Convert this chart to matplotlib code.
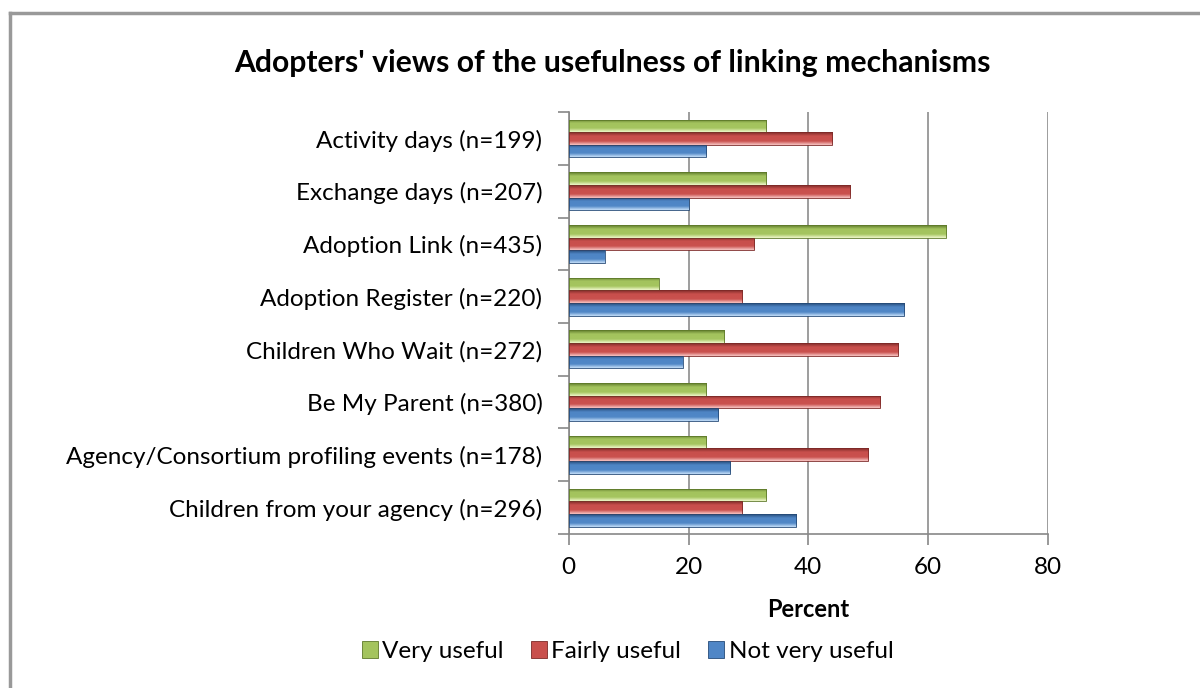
import matplotlib
matplotlib.use("Agg")
import matplotlib.pyplot as plt
import numpy as np
from matplotlib.colors import LinearSegmentedColormap
from matplotlib.patches import Rectangle
from matplotlib.lines import Line2D

plt.rcParams['font.family'] = ['Lato', 'DejaVu Sans']

categories = ["Activity days (n=199)", "Exchange days (n=207)", "Adoption Link (n=435)",
              "Adoption Register (n=220)", "Children Who Wait (n=272)", "Be My Parent (n=380)",
              "Agency/Consortium profiling events (n=178)", "Children from your agency (n=296)"]
very_useful = [33, 33, 63, 15, 26, 23, 23, 33]
fairly_useful = [44, 47, 31, 29, 55, 52, 50, 29]
not_very_useful = [23, 20, 6, 56, 19, 25, 27, 38]
series_names = ["Very useful", "Fairly useful", "Not very useful"]
xticks = [0, 20, 40, 60, 80]

# (light, base, dark)
palettes = [("#f0f8cc", "#a4c45e", "#5f7a2b"),
            ("#f9c8c6", "#c9504d", "#7d2a28"),
            ("#c6e0f9", "#4f86c6", "#264b78")]

fig = plt.figure(figsize=(12, 6.88), dpi=100)
ax = fig.add_axes([0.474, 0.224, 0.399, 0.613])

n = len(categories)
y = np.arange(n)[::-1].astype(float)
h = 0.24
offsets = [h, 0.0, -h]
allvals = [very_useful, fairly_useful, not_very_useful]

ax.set_xlim(0, 80)
ax.set_ylim(-0.5, n - 0.5)

for vals, off, pal, name in zip(allvals, offsets, palettes, series_names):
    bars = ax.barh(y + off, vals, height=h, color=pal[1], edgecolor='none', zorder=3, label=name)
    cmap = LinearSegmentedColormap.from_list("g", [(0, pal[0]), (0.3, pal[1]), (0.7, pal[1]), (1, pal[2])])
    grad = np.linspace(0, 1, 64).reshape(-1, 1)
    for b in bars:
        x0, y0 = b.get_x(), b.get_y()
        w, hh = b.get_width(), b.get_height()
        im = ax.imshow(grad, cmap=cmap, extent=[x0, x0 + w, y0 + hh, y0], aspect='auto',
                       origin='upper', zorder=4, interpolation='bicubic')
        im.set_clip_path(b)
        ax.add_patch(Rectangle((x0, y0), w, hh, fill=False, edgecolor=pal[2], lw=0.6, zorder=5))

ax.set_xlim(0, 80)
ax.set_ylim(-0.5, n - 0.5)

ax.set_yticks(y)
ax.set_yticklabels(categories, fontsize=17.5)
ax.set_yticks(np.arange(-0.5, n, 1.0), minor=True)
ax.tick_params(axis='y', which='major', length=0, pad=19)
ax.tick_params(axis='y', which='minor', length=8, color='#888888', width=1.2)
ax.set_xticks(xticks)
ax.set_xticklabels([str(t) for t in xticks], fontsize=17.5)
ax.tick_params(axis='x', length=8, color='#888888', width=1.2, pad=9)
ax.xaxis.grid(True, color='#8c8c8c', lw=1.2, zorder=0)
ax.set_axisbelow(True)
for s in ['top', 'right']:
    ax.spines[s].set_visible(False)
for s in ['left', 'bottom']:
    ax.spines[s].set_color('#888888')
    ax.spines[s].set_linewidth(1.2)
ax.set_xlabel("Percent", fontsize=17, fontweight='bold', labelpad=14)

fig.text(0.51, 0.909, "Adopters' views of the usefulness of linking mechanisms",
         ha='center', va='center', fontsize=21.7, fontweight='bold')

handles = [Rectangle((0, 0), 1, 1, facecolor=p[1], edgecolor=p[2], lw=0.6) for p in palettes]
fig.legend(handles, series_names, loc='center', bbox_to_anchor=(0.523, 0.053), ncol=3,
           frameon=False, fontsize=17.5, handlelength=0.65, handleheight=0.65,
           handletextpad=0.2, columnspacing=1.1)

# outer border
fig.add_artist(Line2D([10/1200, 1.0], [1 - 13/688, 1 - 13/688], color='#999999', lw=2.5,
                      transform=fig.transFigure))
fig.add_artist(Line2D([10/1200, 10/1200], [0.0, 1 - 13/688], color='#999999', lw=2.5,
                      transform=fig.transFigure))

fig.savefig("out.png", dpi=100)
